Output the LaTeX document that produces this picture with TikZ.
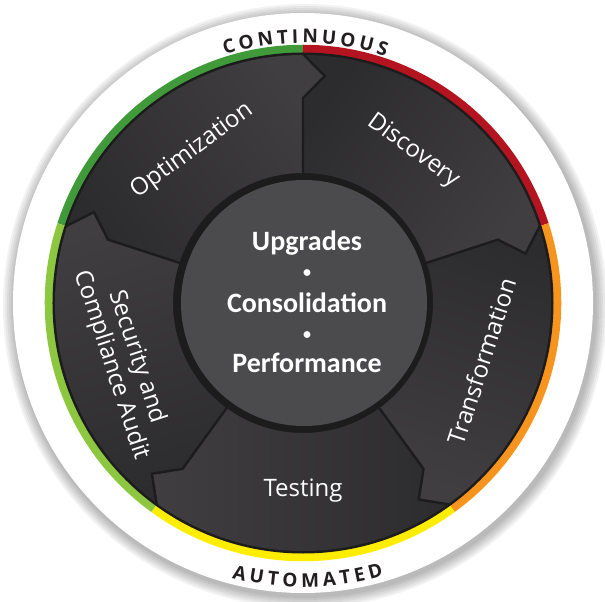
\documentclass[tikz,border=0pt]{standalone}
\usepackage{fontspec}
\setmainfont{Open Sans}
\newfontfamily\ctrfont{Carlito}
\usetikzlibrary{decorations.text}

\definecolor{ringgreen}{HTML}{409A3A}
\definecolor{ringred}{HTML}{B3141F}
\definecolor{ringorange}{HTML}{F7941D}
\definecolor{ringyellow}{HTML}{FFED00}
\definecolor{ringlime}{HTML}{8DC63F}
\definecolor{segdark}{HTML}{2C2B2D}
\definecolor{seglight}{HTML}{403E40}
\definecolor{segline}{HTML}{1D1C1D}
\definecolor{ctrgray}{HTML}{4B4A4C}
\definecolor{rimtext}{HTML}{231F20}

\begin{document}
\begin{tikzpicture}
[seg/.style={left color=segdark,right color=seglight}
,be/.style={draw=segline,line width=2.4pt,line join=miter}
,rim/.style={line width=9.5pt}
,lbl/.style={text=white,align=center,font=\fontsize{24}{27}\selectfont}
,ctr/.style={text=white,font=\ctrfont\bfseries\fontsize{28}{30}\selectfont}
,rimfont/.style={decorate,decoration={text along path,text align=fit to path,text color=rimtext,text={|\bfseries\fontsize{19}{21}\selectfont|#1}}}]
\useasboundingbox (-303pt,-299pt) rectangle (302pt,303pt);
% soft shadow and white disk
\foreach \i in {12,10,...,2}
  \fill[black,opacity=0.05] (2pt,-3pt) circle[radius=(290+\i)*1pt];
\fill[white] (0,0) circle[radius=290pt];
% coloured rim
\foreach \a/\c in {90/ringgreen,18/ringred,-54/ringorange,-126/ringyellow,162/ringlime}
  \draw[rim,\c] (\a:253.5pt) arc[start angle=\a,delta angle=72,radius=253.5pt];
\fill[segline] (0,0) circle[radius=250.5pt];
% segments
\foreach \a/\name/\txt/\rot in {162/opt/Optimization/36,90/disc/Discovery/-36,18/trans/Transformation/72,-54/test/Testing/0,-126/sec/{Security and\\Compliance Audit}/-72}
{
  \pgfmathsetmacro\b{\a-72}
  \pgfmathsetmacro\m{\a-36}
  \shade[seg,shading angle=\m] (\a:130pt) -- (\a:205pt) -- ({\a-5.5}:228pt) -- (\a:248pt)
    arc[start angle=\a,end angle=\b,radius=248pt] -- ({\b-5.5}:228pt) -- (\b:205pt) -- (\b:130pt)
    arc[start angle=\b,end angle=\a,radius=130pt] -- cycle;
  \node[lbl,rotate=\rot] (\name) at (\m:188pt) {\txt};
}
\foreach \a in {90,18,-54,-126,162}
  \draw[be] (\a:125pt) -- (\a:205pt) -- ({\a-5.5}:228pt) -- (\a:249pt);
% centre
\fill[segline] (0,0) circle[radius=126pt];
\fill[ctrgray] (1pt,0) circle[radius=123pt];
\node[ctr] (upg) at (4pt,60pt) {Upgrades};
\node[ctr] (dot1) at (4pt,29pt) {\fontsize{16}{18}\selectfont •};
\node[ctr] (cons) at (4pt,0pt) {Consolidation};
\node[ctr] (dot2) at (4pt,-33pt) {\fontsize{16}{18}\selectfont •};
\node[ctr] (perf) at (4pt,-60pt) {Performance};
% rim words
\path[rimfont=CONTINUOUS] (107.5:260pt) arc[start angle=107.5,end angle=71.5,radius=260pt];
\path[rimfont=AUTOMATED] (255.5:284pt) arc[start angle=255.5,end angle=286.5,radius=284pt];
\end{tikzpicture}
\end{document}
